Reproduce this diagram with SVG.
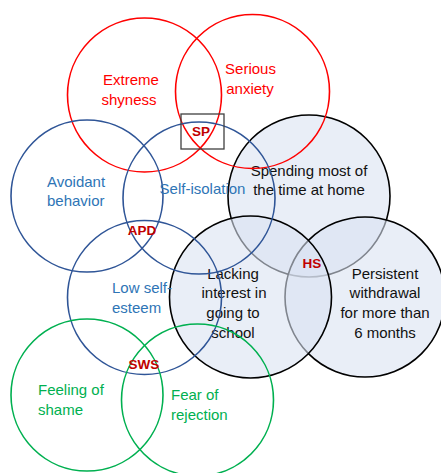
<svg xmlns="http://www.w3.org/2000/svg" width="441" height="473" viewBox="0 0 441 473">
<style>
  .c { fill: none; stroke-width: 1.6; }
  .red { stroke: #ff0000; }
  .blue { stroke: #2f5597; }
  .green { stroke: #00b050; }
  .blk { fill: #d9e2f1; fill-opacity: 0.59; stroke: #000000; stroke-width: 1.6; }
  text { font-family: "Liberation Sans", Arial, sans-serif; font-size: 15px; }
  .tr { fill: #ff0000; }
  .tb { fill: #2e75b6; }
  .tg { fill: #00b050; }
  .tk { fill: #111111; }
  .lab { fill: #c00000; font-weight: bold; font-size: 13.5px; text-anchor: middle; }
  .m { text-anchor: middle; }
</style>
<rect width="441" height="473" fill="#ffffff"/>
<g id="hs-spending">
  <circle class="blk" cx="309" cy="196" r="81"/>
  <text class="tk m" x="309" y="176">Spending most of</text>
  <text class="tk m" x="309" y="195">the time at home</text>
</g>
<g id="hs-persistent">
  <circle class="blk" cx="365" cy="297" r="80"/>
  <text class="tk m" x="385" y="279">Persistent</text>
  <text class="tk m" x="385" y="298">withdrawal</text>
  <text class="tk m" x="385" y="318">for more than</text>
  <text class="tk m" x="385" y="338">6 months</text>
</g>
<g id="hs-lacking">
  <circle class="blk" cx="250.5" cy="297" r="81"/>
  <text class="tk m" x="233" y="279">Lacking</text>
  <text class="tk m" x="234" y="298">interest in</text>
  <text class="tk m" x="233" y="318">going to</text>
  <text class="tk m" x="233" y="338">school</text>
</g>
<g id="sp-shyness">
  <circle class="c red" cx="144.5" cy="95" r="77"/>
  <text class="tr m" x="131" y="85">Extreme</text>
  <text class="tr m" x="129" y="105">shyness</text>
</g>
<g id="sp-anxiety">
  <circle class="c red" cx="252.5" cy="91.5" r="77"/>
  <text class="tr m" x="250.5" y="74">Serious</text>
  <text class="tr m" x="250" y="94">anxiety</text>
</g>
<g id="apd-avoidant">
  <circle class="c blue" cx="87" cy="196" r="76"/>
  <text class="tb" x="47" y="187">Avoidant</text>
  <text class="tb" x="47" y="206">behavior</text>
</g>
<g id="apd-isolation">
  <circle class="c blue" cx="199" cy="198" r="76"/>
  <text class="tb m" x="202.5" y="194">Self-isolation</text>
</g>
<g id="apd-esteem">
  <circle class="c blue" cx="144.5" cy="297.5" r="77"/>
  <text class="tb" x="112" y="293">Low self-</text>
  <text class="tb" x="112" y="313">esteem</text>
</g>
<g id="sws-shame">
  <circle class="c green" cx="87" cy="395" r="76"/>
  <text class="tg" x="38" y="395">Feeling of</text>
  <text class="tg" x="38" y="415">shame</text>
</g>
<g id="sws-rejection">
  <circle class="c green" cx="197.5" cy="400" r="76"/>
  <text class="tg" x="171" y="400">Fear of</text>
  <text class="tg" x="171" y="420">rejection</text>
</g>
<g id="labels">
  <rect x="181" y="114" width="43" height="35" fill="none" stroke="#404040" stroke-width="1.3"/>
  <text class="lab" x="201" y="136">SP</text>
  <text class="lab" x="142" y="235">APD</text>
  <text class="lab" x="312" y="268">HS</text>
  <text class="lab" x="144" y="369">SWS</text>
</g>
</svg>
